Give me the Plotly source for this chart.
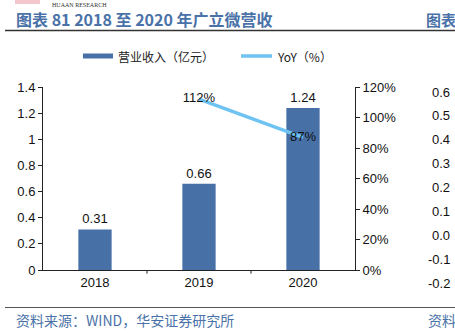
import plotly.graph_objects as go

years = ["2018", "2019", "2020"]
revenue = [0.31, 0.66, 1.24]
yoy_years = ["2019", "2020"]
yoy = [112, 87]
side_ticks = ["0.6", "0.5", "0.4", "0.3", "0.2", "0.1", "0.0", "-0.1", "-0.2"]

W, H = 455, 333
L, R, T, B = 43, 355, 87, 270

fig = go.Figure()
fig.add_trace(go.Bar(
    x=years, y=revenue, name="营业收入（亿元）",
    marker=dict(color="#4670A6", line=dict(width=0)),
    width=0.32,
    text=[f"{v:.2f}" for v in revenue], textposition="outside",
    textfont=dict(family="Liberation Sans, Arial", size=13, color="#111"),
    cliponaxis=False,
))
fig.add_trace(go.Scatter(
    x=yoy_years, y=yoy, name="YoY（%）", yaxis="y2", mode="lines+text",
    line=dict(color="#6EC3F2", width=3.5),
    text=[f"{v}%" for v in yoy], textposition="middle center",
    textfont=dict(family="Liberation Sans, Arial", size=13, color="#111"),
    cliponaxis=False,
))

tickfont = dict(family="Liberation Sans, Arial", size=13, color="#111")
fig.update_layout(
    width=W, height=H,
    margin=dict(l=L, r=W - R, t=T, b=H - B, pad=0),
    paper_bgcolor="white", plot_bgcolor="white",
    showlegend=False,
    bargap=0.68,
    xaxis=dict(type="category", showline=True, linecolor="#222", linewidth=1,
               ticks="", tickfont=tickfont, showgrid=False, zeroline=False),
    yaxis=dict(range=[0, 1.4], dtick=0.2, tickformat="~g", showline=True, linecolor="#222",
               linewidth=1, ticks="outside", ticklen=4, tickcolor="#222",
               tickfont=tickfont, showgrid=False, zeroline=False),
    yaxis2=dict(range=[0, 120], dtick=20, ticksuffix="%", overlaying="y", side="right",
                showline=True, linecolor="#222", linewidth=1, ticks="outside", ticklen=4,
                tickcolor="#222", tickfont=tickfont, showgrid=False, zeroline=False),
)

# x-axis ticks between categories
for xv in [0.5, 1.5]:
    fig.add_shape(type="line", xref="x", yref="paper", x0=xv, x1=xv, y0=0, y1=-0.02,
                  line=dict(color="#222", width=1))

def px(x):
    return (x - L) / (R - L)

def py(y):
    return (B - y) / (B - T)

cjk = "Noto Sans CJK SC"
blue = "#4A72A8"
ann = []
# title
ann.append(dict(text="<b>图表 81 2018 至 2020 年广立微营收</b>", x=px(14), y=py(19), xanchor="left",
                yanchor="middle", font=dict(family=cjk, size=16, color=blue)))
ann.append(dict(text="<b>图表</b>", x=px(424), y=py(19), xanchor="left", yanchor="middle",
                font=dict(family=cjk, size=15, color=blue)))
ann.append(dict(text="HUAAN RESEARCH", x=px(50), y=py(0), xanchor="left", yanchor="top",
                font=dict(family="Liberation Serif", size=6, color="#333")))
# legend
ann.append(dict(text="营业收入（亿元）", x=px(116), y=py(56), xanchor="left", yanchor="middle",
                font=dict(family=cjk, size=12, color="#222")))
ann.append(dict(text="YoY（%）", x=px(275), y=py(56), xanchor="left", yanchor="middle",
                font=dict(family=cjk, size=12, color="#222")))
# footer
ann.append(dict(text="资料来源：WIND，华安证券研究所", x=px(14), y=py(320), xanchor="left",
                yanchor="middle", font=dict(family=cjk, size=14, color=blue)))
ann.append(dict(text="资料", x=px(426), y=py(320), xanchor="left", yanchor="middle",
                font=dict(family=cjk, size=14, color=blue)))
# neighbouring chart tick labels (cut off)
for i, t in enumerate(side_ticks):
    ann.append(dict(text=t, x=px(452), y=py(92 + i * 23.9), xanchor="right", yanchor="middle",
                    font=dict(family="Liberation Sans, Arial", size=13, color="#111")))
for a in ann:
    a.update(xref="paper", yref="paper", showarrow=False)
fig.update_layout(annotations=ann)

shapes = list(fig.layout.shapes)
shapes += [
    dict(type="line", xref="paper", yref="paper", x0=px(5), x1=px(455), y0=py(30.5), y1=py(30.5),
         line=dict(color="#333", width=1.5)),
    dict(type="line", xref="paper", yref="paper", x0=px(5), x1=px(455), y0=py(307.5), y1=py(307.5),
         line=dict(color="#555", width=1.2)),
    dict(type="rect", xref="paper", yref="paper", x0=px(83), x1=px(113), y0=py(53.5), y1=py(58.5),
         fillcolor="#4670A6", line=dict(width=0)),
    dict(type="line", xref="paper", yref="paper", x0=px(241), x1=px(272), y0=py(56), y1=py(56),
         line=dict(color="#6EC3F2", width=3.5)),
    dict(type="rect", xref="paper", yref="paper", x0=px(15), x1=px(40), y0=py(0), y1=py(4),
         fillcolor="#F4C6CC", line=dict(width=0)),
]
fig.update_layout(shapes=shapes)

fig.write_html("out.html")
